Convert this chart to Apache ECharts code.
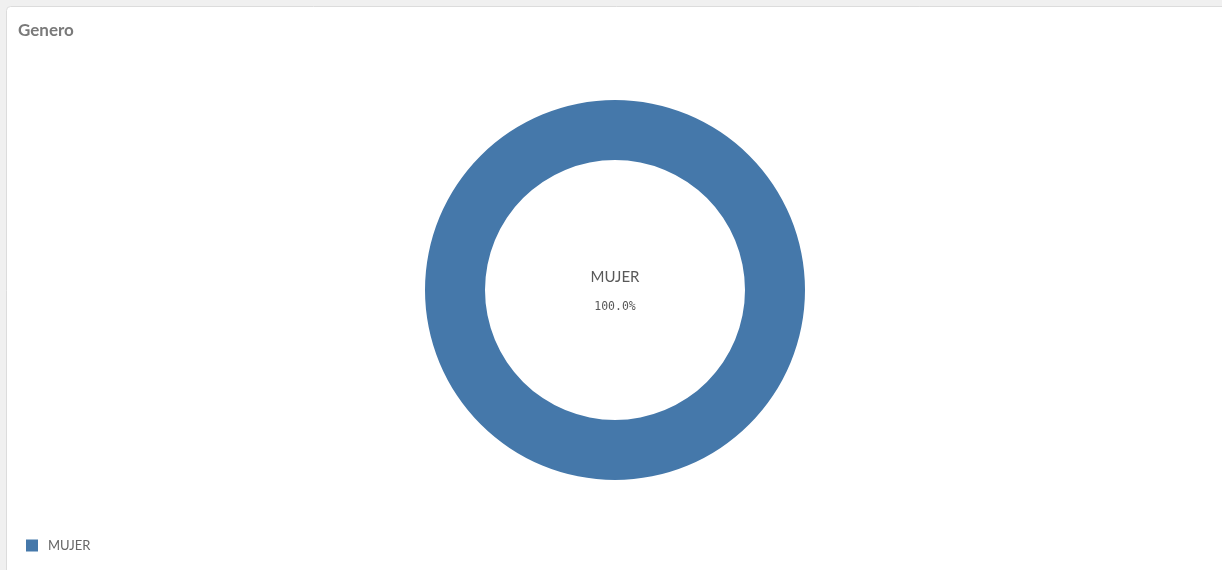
<!DOCTYPE html>
<html>
<head>
<meta charset="utf-8">
<script src="https://cdn.jsdelivr.net/npm/echarts@6/dist/echarts.min.js"></script>
<style>
html,body{margin:0;padding:0;background:#f0f0f0;}
#chart{width:1222px;height:570px;}
</style>
</head>
<body>
<div id="chart"></div>
<script>
const titleText = 'Genero';
const categories = ['MUJER'];
const values = [100];

const chart = echarts.init(document.getElementById('chart'));
chart.setOption({
  animation: false,
  color: ['#4578aa'],
  graphic: [{
    type: 'rect',
    z: -10,
    shape: {x: 6.5, y: 6.5, width: 1240, height: 600, r: 4},
    style: {fill: '#ffffff', stroke: '#dcdcdc', lineWidth: 1}
  }],
  title: {
    text: titleText,
    left: 18,
    top: 22,
    padding: 0,
    textStyle: {fontFamily: 'Lato', fontWeight: 'bold', fontSize: 17, color: '#7a7a7a'}
  },
  legend: {
    left: 26,
    top: 539,
    padding: 0,
    icon: 'rect',
    itemWidth: 12,
    itemHeight: 12,
    itemGap: 10,
    data: categories,
    textStyle: {fontFamily: 'Lato', fontSize: 13, color: '#666666', padding: [0, 0, 0, 5]}
  },
  series: [{
    type: 'pie',
    center: [615, 290],
    radius: [130, 190],
    silent: true,
    label: {
      show: true,
      position: 'center',
      padding: [5, 0, 0, 0],
      formatter: p => '{a|' + p.name + '}\n{b|' + p.percent.toFixed(1) + '%}',
      rich: {
        a: {fontFamily: 'Lato', fontSize: 15, color: '#595959', lineHeight: 30},
        b: {fontFamily: 'DejaVu Sans Mono', fontSize: 11.5, color: '#595959', lineHeight: 30}
      }
    },
    labelLine: {show: false},
    data: categories.map((c, i) => ({name: c, value: values[i]}))
  }]
});
</script>
</body>
</html>
